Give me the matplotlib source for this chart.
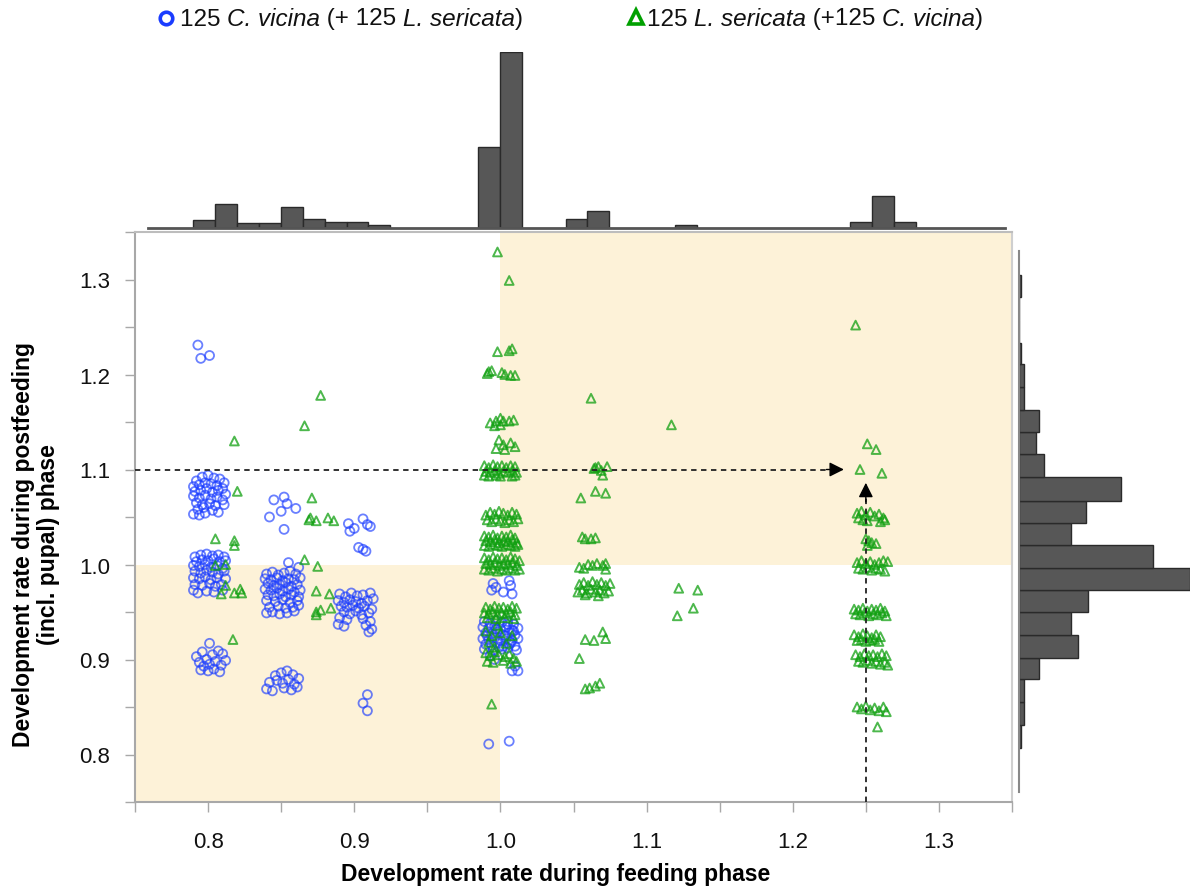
import matplotlib
matplotlib.use("Agg")
import matplotlib.pyplot as plt
from matplotlib.lines import Line2D
from matplotlib.offsetbox import TextArea, HPacker, AnchoredOffsetbox
import numpy as np

# ---------------- data ----------------
# C. vicina (+125 L. sericata): (feeding rate, postfeeding rate)
cvicina_xy = [
    # x~0.80, y~1.22
    (0.793, 1.231), (0.795, 1.217), (0.801, 1.220),
    # x~0.80, y~1.05-1.09
    (0.792, 1.088), (0.796, 1.092), (0.800, 1.094), (0.804, 1.091), (0.808, 1.090), (0.811, 1.086),
    (0.790, 1.082), (0.794, 1.084), (0.798, 1.086), (0.802, 1.085), (0.806, 1.083), (0.810, 1.080),
    (0.791, 1.077), (0.795, 1.078), (0.799, 1.080), (0.803, 1.076), (0.807, 1.078), (0.812, 1.074),
    (0.790, 1.072), (0.794, 1.070), (0.798, 1.073), (0.802, 1.069), (0.806, 1.071), (0.810, 1.068),
    (0.792, 1.065), (0.796, 1.063), (0.801, 1.064), (0.805, 1.062), (0.811, 1.063),
    (0.793, 1.058), (0.797, 1.060), (0.803, 1.057),
    (0.790, 1.053), (0.794, 1.052), (0.798, 1.054), (0.807, 1.055),
    # x~0.80, y~0.97-1.01
    (0.791, 1.008), (0.795, 1.010), (0.799, 1.011), (0.803, 1.009), (0.807, 1.010), (0.811, 1.008),
    (0.792, 1.003), (0.796, 1.005), (0.800, 1.004), (0.804, 1.006), (0.808, 1.003), (0.812, 1.004),
    (0.790, 0.999), (0.794, 0.998), (0.798, 1.000), (0.802, 0.997), (0.806, 0.999), (0.810, 0.996),
    (0.791, 0.993), (0.795, 0.991), (0.799, 0.994), (0.803, 0.992), (0.807, 0.990), (0.811, 0.993),
    (0.790, 0.986), (0.794, 0.985), (0.798, 0.987), (0.802, 0.984), (0.806, 0.986), (0.812, 0.985),
    (0.791, 0.979), (0.796, 0.978), (0.801, 0.980), (0.805, 0.977), (0.809, 0.979),
    (0.790, 0.973), (0.793, 0.970), (0.799, 0.972), (0.804, 0.971), (0.810, 0.973),
    # x~0.80, y~0.89-0.92
    (0.801, 0.917), (0.792, 0.903), (0.796, 0.908), (0.799, 0.900), (0.803, 0.905), (0.807, 0.909),
    (0.810, 0.906), (0.794, 0.897), (0.797, 0.893), (0.801, 0.895), (0.805, 0.898), (0.809, 0.894),
    (0.812, 0.899), (0.795, 0.889), (0.800, 0.888), (0.804, 0.890), (0.808, 0.887),
    # x~0.85, y~1.04-1.07
    (0.845, 1.068), (0.852, 1.071), (0.854, 1.064), (0.850, 1.056), (0.842, 1.050), (0.860, 1.059),
    (0.852, 1.037),
    # x~0.85, y~0.95-1.00
    (0.855, 1.002), (0.862, 0.997),
    (0.840, 0.990), (0.844, 0.992), (0.848, 0.989), (0.852, 0.991), (0.856, 0.993), (0.860, 0.990),
    (0.839, 0.985), (0.843, 0.984), (0.847, 0.986), (0.851, 0.983), (0.855, 0.985), (0.859, 0.984),
    (0.863, 0.986),
    (0.841, 0.980), (0.845, 0.978), (0.849, 0.979), (0.853, 0.981), (0.857, 0.977), (0.861, 0.979),
    (0.839, 0.974), (0.843, 0.973), (0.847, 0.975), (0.851, 0.972), (0.855, 0.974), (0.859, 0.971),
    (0.863, 0.973),
    (0.841, 0.968), (0.845, 0.967), (0.849, 0.969), (0.853, 0.966), (0.857, 0.968), (0.862, 0.966),
    (0.840, 0.962), (0.846, 0.961), (0.851, 0.963), (0.856, 0.960), (0.861, 0.962),
    (0.842, 0.955), (0.848, 0.956), (0.853, 0.954), (0.858, 0.955), (0.862, 0.957),
    (0.840, 0.949), (0.844, 0.950), (0.849, 0.948), (0.854, 0.949), (0.859, 0.951),
    # x~0.85, y~0.87-0.89
    (0.846, 0.883), (0.850, 0.886), (0.854, 0.888), (0.858, 0.884), (0.862, 0.880),
    (0.842, 0.876), (0.847, 0.878), (0.851, 0.875), (0.855, 0.879), (0.859, 0.874),
    (0.840, 0.869), (0.844, 0.867), (0.852, 0.870), (0.857, 0.868), (0.861, 0.871),
    # x~0.90, y~1.01-1.05
    (0.896, 1.043), (0.900, 1.038), (0.906, 1.048), (0.909, 1.042), (0.911, 1.040), (0.897, 1.035),
    (0.903, 1.018), (0.906, 1.016), (0.908, 1.014),
    # x~0.90, y~0.93-0.97
    (0.890, 0.969), (0.894, 0.966), (0.898, 0.970), (0.902, 0.967), (0.906, 0.968), (0.911, 0.970),
    (0.889, 0.962), (0.893, 0.960), (0.897, 0.963), (0.901, 0.961), (0.905, 0.959), (0.909, 0.962),
    (0.913, 0.964),
    (0.891, 0.956), (0.895, 0.955), (0.899, 0.957), (0.903, 0.954), (0.907, 0.956), (0.912, 0.953),
    (0.893, 0.950), (0.897, 0.948), (0.901, 0.951), (0.905, 0.947), (0.910, 0.949),
    (0.890, 0.944), (0.895, 0.942), (0.906, 0.943), (0.911, 0.940),
    (0.889, 0.937), (0.893, 0.935), (0.908, 0.936), (0.912, 0.932), (0.910, 0.929),
    # x~0.91, y~0.85
    (0.909, 0.863), (0.906, 0.854), (0.909, 0.846),
    # x~1.00
    (0.994, 0.973), (0.997, 0.976), (0.995, 0.980), (1.002, 0.971), (1.006, 0.983), (1.007, 0.978),
    (1.008, 0.969), (1.005, 0.937), (0.997, 0.932),
    (0.989, 0.940), (0.993, 0.938), (0.997, 0.941), (1.001, 0.939), (1.005, 0.940), (1.009, 0.937),
    (0.988, 0.934), (0.992, 0.933), (0.996, 0.935), (1.000, 0.932), (1.004, 0.934), (1.008, 0.931),
    (1.012, 0.933),
    (0.990, 0.928), (0.994, 0.927), (0.998, 0.929), (1.002, 0.926), (1.006, 0.928), (1.010, 0.926),
    (0.988, 0.922), (0.992, 0.921), (0.996, 0.923), (1.000, 0.920), (1.004, 0.922), (1.008, 0.920),
    (1.012, 0.922),
    (0.990, 0.916), (0.994, 0.915), (0.998, 0.917), (1.002, 0.914), (1.006, 0.916), (1.010, 0.914),
    (0.989, 0.911), (0.995, 0.910), (1.001, 0.911), (1.005, 0.912), (1.011, 0.910),
    (1.003, 0.925), (1.007, 0.918), (1.009, 0.930), (0.991, 0.925), (0.999, 0.913),
    (0.993, 0.904), (0.996, 0.900), (1.008, 0.888), (1.012, 0.888), (1.010, 0.893),
    (0.992, 0.811), (1.006, 0.814),
]

# L. sericata (+125 C. vicina)
lsericata_xy = [
    # x~0.80-0.89
    (0.818, 1.130), (0.877, 1.178), (0.866, 1.146),
    (0.820, 1.077), (0.871, 1.070), (0.870, 1.049), (0.874, 1.046), (0.869, 1.047),
    (0.882, 1.049), (0.886, 1.046),
    (0.805, 1.027), (0.818, 1.025), (0.818, 1.020),
    (0.805, 0.999), (0.812, 1.000), (0.866, 1.005), (0.875, 0.998),
    (0.812, 0.978), (0.809, 0.969), (0.818, 0.970), (0.822, 0.974), (0.823, 0.970),
    (0.874, 0.972), (0.883, 0.969), (0.884, 0.954), (0.874, 0.950), (0.877, 0.952), (0.874, 0.947),
    (0.817, 0.921),
    # x~1.00
    (0.998, 1.329), (1.006, 1.299), (0.998, 1.224), (1.008, 1.227), (1.006, 1.225),
    (0.992, 1.203), (0.994, 1.204), (1.001, 1.202), (1.003, 1.200), (1.007, 1.199), (1.010, 1.199),
    (0.991, 1.201),
    (0.993, 1.149), (0.997, 1.151), (1.000, 1.154), (1.002, 1.151), (1.006, 1.151), (1.009, 1.152),
    (1.000, 1.147), (0.996, 1.146),
    (0.999, 1.131), (0.997, 1.122), (1.002, 1.126), (1.007, 1.128), (1.010, 1.124), (1.003, 1.121),
    (0.989, 1.104), (0.992, 1.102), (0.995, 1.105), (0.998, 1.103), (1.001, 1.104), (1.004, 1.102),
    (1.007, 1.104), (1.010, 1.103),
    (0.990, 1.098), (0.993, 1.097), (0.996, 1.099), (0.999, 1.096), (1.002, 1.098), (1.005, 1.097),
    (1.008, 1.099), (1.011, 1.097),
    (0.989, 1.094), (0.992, 1.093), (0.997, 1.094), (1.000, 1.093), (1.008, 1.093), (1.010, 1.094),
    (0.990, 1.052), (0.993, 1.055), (0.996, 1.053), (0.999, 1.056), (1.002, 1.054), (1.005, 1.052),
    (1.008, 1.055), (1.011, 1.053),
    (0.991, 1.047), (0.994, 1.045), (0.997, 1.048), (1.000, 1.046), (1.003, 1.044), (1.006, 1.047),
    (1.009, 1.045), (1.012, 1.048),
    (0.989, 1.030), (0.992, 1.029), (0.995, 1.031), (0.998, 1.028), (1.001, 1.030), (1.004, 1.029),
    (1.007, 1.031), (1.010, 1.028),
    (0.990, 1.025), (0.993, 1.024), (0.996, 1.026), (0.999, 1.023), (1.002, 1.025), (1.005, 1.024),
    (1.008, 1.026), (1.011, 1.023),
    (0.989, 1.020), (0.992, 1.019), (0.995, 1.021), (0.998, 1.020), (1.001, 1.019), (1.004, 1.021),
    (1.007, 1.020), (1.010, 1.019), (1.012, 1.021),
    (0.989, 1.007), (0.992, 1.005), (0.995, 1.008), (0.998, 1.006), (1.001, 1.007), (1.004, 1.005),
    (1.007, 1.008), (1.010, 1.006), (1.013, 1.004),
    (0.990, 1.001), (0.993, 1.000), (0.996, 1.002), (0.999, 0.999), (1.002, 1.001), (1.005, 1.000),
    (1.008, 1.002), (1.011, 0.999),
    (0.989, 0.995), (0.992, 0.994), (0.995, 0.996), (0.998, 0.993), (1.001, 0.995), (1.004, 0.994),
    (1.007, 0.996), (1.010, 0.994), (1.013, 0.995),
    (0.990, 0.955), (0.993, 0.953), (0.996, 0.956), (0.999, 0.954), (1.002, 0.955), (1.005, 0.953),
    (1.008, 0.956), (1.011, 0.954),
    (0.989, 0.949), (0.992, 0.948), (0.995, 0.950), (0.998, 0.947), (1.001, 0.949), (1.004, 0.948),
    (1.007, 0.950), (1.010, 0.947),
    (0.991, 0.944), (0.997, 0.943), (1.003, 0.944), (1.009, 0.943),
    (0.990, 0.930), (0.994, 0.925), (0.998, 0.936), (0.992, 0.918), (1.000, 0.928), (1.004, 0.917),
    (1.008, 0.925), (0.996, 0.913),
    (0.990, 0.907), (0.993, 0.904), (0.996, 0.908), (0.999, 0.905), (1.003, 0.903), (1.006, 0.906),
    (1.009, 0.901), (0.991, 0.898), (0.995, 0.897), (1.002, 0.899), (1.007, 0.896), (1.011, 0.898),
    (0.994, 0.853),
    # x~1.06
    (1.062, 1.175), (1.117, 1.147),
    (1.065, 1.102), (1.067, 1.103), (1.070, 1.094), (1.073, 1.103), (1.064, 1.101), (1.069, 1.099),
    (1.055, 1.070), (1.065, 1.077), (1.072, 1.075),
    (1.056, 1.029), (1.058, 1.027), (1.062, 1.027), (1.065, 1.028),
    (1.054, 0.997), (1.057, 0.996), (1.063, 0.999), (1.066, 1.001), (1.070, 0.999), (1.072, 1.001),
    (1.072, 0.995), (1.060, 1.000),
    (1.054, 0.979), (1.057, 0.981), (1.060, 0.978), (1.063, 0.982), (1.066, 0.979), (1.069, 0.981),
    (1.072, 0.978), (1.075, 0.980),
    (1.053, 0.971), (1.056, 0.973), (1.059, 0.970), (1.062, 0.974), (1.065, 0.971), (1.068, 0.973),
    (1.071, 0.970), (1.074, 0.972), (1.058, 0.968), (1.067, 0.967),
    (1.122, 0.975), (1.135, 0.973), (1.132, 0.954), (1.121, 0.946),
    (1.058, 0.921), (1.064, 0.920), (1.070, 0.929), (1.072, 0.922),
    (1.054, 0.901),
    (1.058, 0.869), (1.061, 0.870), (1.065, 0.872), (1.068, 0.875),
    # x~1.25
    (1.243, 1.252), (1.251, 1.127), (1.257, 1.121), (1.246, 1.100), (1.261, 1.096),
    (1.244, 1.054), (1.247, 1.056), (1.250, 1.052), (1.253, 1.055), (1.256, 1.051), (1.259, 1.053),
    (1.262, 1.049), (1.245, 1.049), (1.248, 1.047), (1.251, 1.046), (1.260, 1.045), (1.263, 1.047),
    (1.250, 1.027), (1.252, 1.025), (1.254, 1.023), (1.257, 1.022), (1.251, 1.020),
    (1.244, 1.002), (1.247, 1.004), (1.250, 1.001), (1.253, 1.003), (1.256, 1.000), (1.259, 1.002),
    (1.262, 1.004), (1.265, 1.003),
    (1.245, 0.996), (1.248, 0.995), (1.251, 0.997), (1.254, 0.994), (1.257, 0.996), (1.260, 0.995),
    (1.263, 0.993),
    (1.242, 0.953), (1.245, 0.952), (1.248, 0.954), (1.251, 0.951), (1.254, 0.953), (1.257, 0.952),
    (1.260, 0.954), (1.263, 0.951),
    (1.243, 0.948), (1.246, 0.947), (1.249, 0.949), (1.252, 0.946), (1.255, 0.948), (1.258, 0.947),
    (1.261, 0.949), (1.264, 0.946),
    (1.242, 0.926), (1.245, 0.924), (1.248, 0.927), (1.251, 0.925), (1.254, 0.923), (1.257, 0.926),
    (1.260, 0.924),
    (1.244, 0.920), (1.247, 0.921), (1.250, 0.919), (1.253, 0.920), (1.256, 0.921), (1.259, 0.919),
    (1.243, 0.905), (1.246, 0.903), (1.249, 0.906), (1.252, 0.904), (1.255, 0.905), (1.258, 0.903),
    (1.261, 0.906), (1.264, 0.904),
    (1.245, 0.898), (1.248, 0.897), (1.251, 0.899), (1.254, 0.896), (1.257, 0.898), (1.260, 0.895),
    (1.263, 0.897), (1.265, 0.894),
    (1.244, 0.850), (1.247, 0.848), (1.250, 0.851), (1.253, 0.847), (1.256, 0.849), (1.259, 0.846),
    (1.262, 0.850), (1.264, 0.845),
    (1.258, 0.829),
]

# marginal histogram of feeding rate (top)
top_bin_left = [0.790, 0.805, 0.820, 0.835, 0.850, 0.865, 0.880, 0.895, 0.910,
                0.985, 1.000, 1.045, 1.060, 1.120, 1.240, 1.255, 1.270]
top_bin_width = 0.015
top_counts = [5, 16, 3, 3, 14, 6, 4, 4, 2, 54, 117, 6, 11, 2, 4, 21, 4]

# marginal histogram of postfeeding rate (right)
right_bin_edges = [0.807, 0.831, 0.855, 0.879, 0.902, 0.926, 0.950, 0.974, 0.997, 1.021, 1.044,
                   1.068, 1.093, 1.117, 1.141, 1.164, 1.188, 1.212, 1.235, 1.259, 1.283, 1.307]
right_counts = [1, 2, 2, 8, 24, 21, 28, 69, 54, 21, 27, 41, 10, 7, 8, 2, 2, 1, 0, 0, 1]

x_ticks = [0.8, 0.9, 1.0, 1.1, 1.2, 1.3]
y_ticks = [0.8, 0.9, 1.0, 1.1, 1.2, 1.3]
axis_min, axis_max = 0.75, 1.35
threshold = 1.0
target_x, target_y = 1.25, 1.10
h_arrow_tip = 1.235
v_arrow_tip = 1.086

# legend text pieces: (text, italic)
legend_cv = [("125 ", False), ("C. vicina", True), (" (+ 125 ", False), ("L. sericata", True), (")", False)]
legend_ls = [("125 ", False), ("L. sericata", True), (" (+125 ", False), ("C. vicina", True), (")", False)]

# ---------------- style ----------------
plt.rcParams["font.family"] = ["Liberation Sans", "DejaVu Sans"]

BLUE = "#1A3CFF"
GREEN = "#11A011"
SHADE = "#FDF2D8"
SPINE = "#A8A8A8"
BAR = "#575757"

W, H = 1193, 887
fig = plt.figure(figsize=(W / 100, H / 100), dpi=100)

ax = fig.add_axes([135 / W, 1 - 803 / H, 877 / W, 570 / H])
ax.set_xlim(axis_min, axis_max)
ax.set_ylim(axis_min, axis_max)

ax.fill_between([axis_min, threshold], axis_min, threshold, color=SHADE, lw=0, zorder=0)
ax.fill_between([threshold, axis_max], threshold, axis_max, color=SHADE, lw=0, zorder=0)

cx = [p[0] for p in cvicina_xy]
cy = [p[1] for p in cvicina_xy]
lx = [p[0] for p in lsericata_xy]
ly = [p[1] for p in lsericata_xy]

ax.scatter(cx, cy, s=42, marker="o", facecolors="none", edgecolors=BLUE,
           linewidths=1.3, alpha=0.65, zorder=3)
ax.scatter(lx, ly, s=40, marker="^", facecolors="none", edgecolors=GREEN,
           linewidths=1.4, alpha=0.75, zorder=4)

# dashed guide arrows
ax.plot([axis_min, h_arrow_tip - 0.005], [target_y, target_y], ls=(0, (3, 2.5)),
        color="#222222", lw=1.3, zorder=5)
ax.annotate("", xy=(h_arrow_tip, target_y), xytext=(h_arrow_tip - 0.012, target_y),
            arrowprops=dict(arrowstyle="-|>", color="black", lw=1, mutation_scale=22,
                            shrinkA=0, shrinkB=0), zorder=6)
ax.plot([target_x, target_x], [axis_min, v_arrow_tip - 0.008], ls=(0, (3, 2.5)),
        color="#222222", lw=1.3, zorder=5)
ax.annotate("", xy=(target_x, v_arrow_tip), xytext=(target_x, v_arrow_tip - 0.02),
            arrowprops=dict(arrowstyle="-|>", color="black", lw=1, mutation_scale=22,
                            shrinkA=0, shrinkB=0), zorder=6)

ax.set_xticks(x_ticks)
ax.set_xticklabels([f"{v:.1f}" for v in x_ticks])
ax.set_xticks([0.75, 0.85, 0.95, 1.05, 1.15, 1.25, 1.35], minor=True)
ax.set_yticks(y_ticks)
ax.set_yticklabels([f"{v:.1f}" for v in y_ticks])
ax.set_yticks([0.75, 0.85, 0.95, 1.05, 1.15, 1.25, 1.35], minor=True)
ax.tick_params(which="both", direction="out", length=7, width=1, color=SPINE,
               labelsize=16, labelcolor="#111111")
ax.tick_params(axis="x", which="both", pad=14)
ax.tick_params(axis="y", which="both", pad=11)
for s in ax.spines.values():
    s.set_color(SPINE)
    s.set_linewidth(1.5)
ax.spines["top"].set_color("#BDBDBD")
ax.spines["right"].set_color("#CFCFCF")

fig.text(556 / W, 1 - 875 / H, "Development rate during feeding phase",
         ha="center", va="center", fontsize=16.5, fontweight="bold")
fig.text(36 / W, 1 - 545 / H, "Development rate during postfeeding\n(incl. pupal) phase",
         ha="center", va="center", rotation=90, fontsize=16.5, fontweight="bold",
         linespacing=1.15)

# top histogram
axt = fig.add_axes([148 / W, 1 - 229 / H, 857 / W, 176 / H])
axt.bar(top_bin_left, top_counts, width=top_bin_width, align="edge",
        color=BAR, edgecolor="#2A2A2A", linewidth=1)
axt.set_xlim(0.759, 1.346)
axt.set_ylim(0, max(top_counts))
axt.set_xticks([])
axt.set_yticks([])
for k in ["top", "left", "right"]:
    axt.spines[k].set_visible(False)
axt.spines["bottom"].set_color("#555555")
axt.spines["bottom"].set_linewidth(2)
axt.patch.set_alpha(0)

# right histogram
axr = fig.add_axes([1019 / W, 1 - 793 / H, 171 / W, 541 / H])
axr.barh(right_bin_edges[:-1], right_counts, height=np.diff(right_bin_edges), align="edge",
         color=BAR, edgecolor="#2A2A2A", linewidth=1)
axr.set_ylim(0.760, 1.332)
axr.set_xlim(0, max(right_counts))
axr.set_xticks([])
axr.set_yticks([])
for k in ["top", "bottom", "right"]:
    axr.spines[k].set_visible(False)
axr.spines["left"].set_color("#888888")
axr.spines["left"].set_linewidth(1.5)
axr.patch.set_alpha(0)


# legend
def add_label(pieces, x_px, y_px):
    areas = [TextArea(t, textprops=dict(fontsize=17.5, style="italic" if it else "normal",
                                        color="#111111"))
             for t, it in pieces]
    box = HPacker(children=areas, align="baseline", pad=0, sep=0)
    anchored = AnchoredOffsetbox(loc="center left", child=box, pad=0, borderpad=0,
                                 frameon=False, bbox_to_anchor=(x_px / W, 1 - y_px / H),
                                 bbox_transform=fig.transFigure)
    fig.add_artist(anchored)


fig.add_artist(Line2D([166 / W], [1 - 19 / H], marker="o", markersize=9,
                      markerfacecolor="none", markeredgecolor=BLUE, markeredgewidth=2.6,
                      transform=fig.transFigure))
add_label(legend_cv, 180, 19)
fig.add_artist(Line2D([636 / W], [1 - 18 / H], marker="^", markersize=10,
                      markerfacecolor="none", markeredgecolor="#00A000", markeredgewidth=2.6,
                      transform=fig.transFigure))
add_label(legend_ls, 647, 19)

fig.savefig("out.png", dpi=100)
